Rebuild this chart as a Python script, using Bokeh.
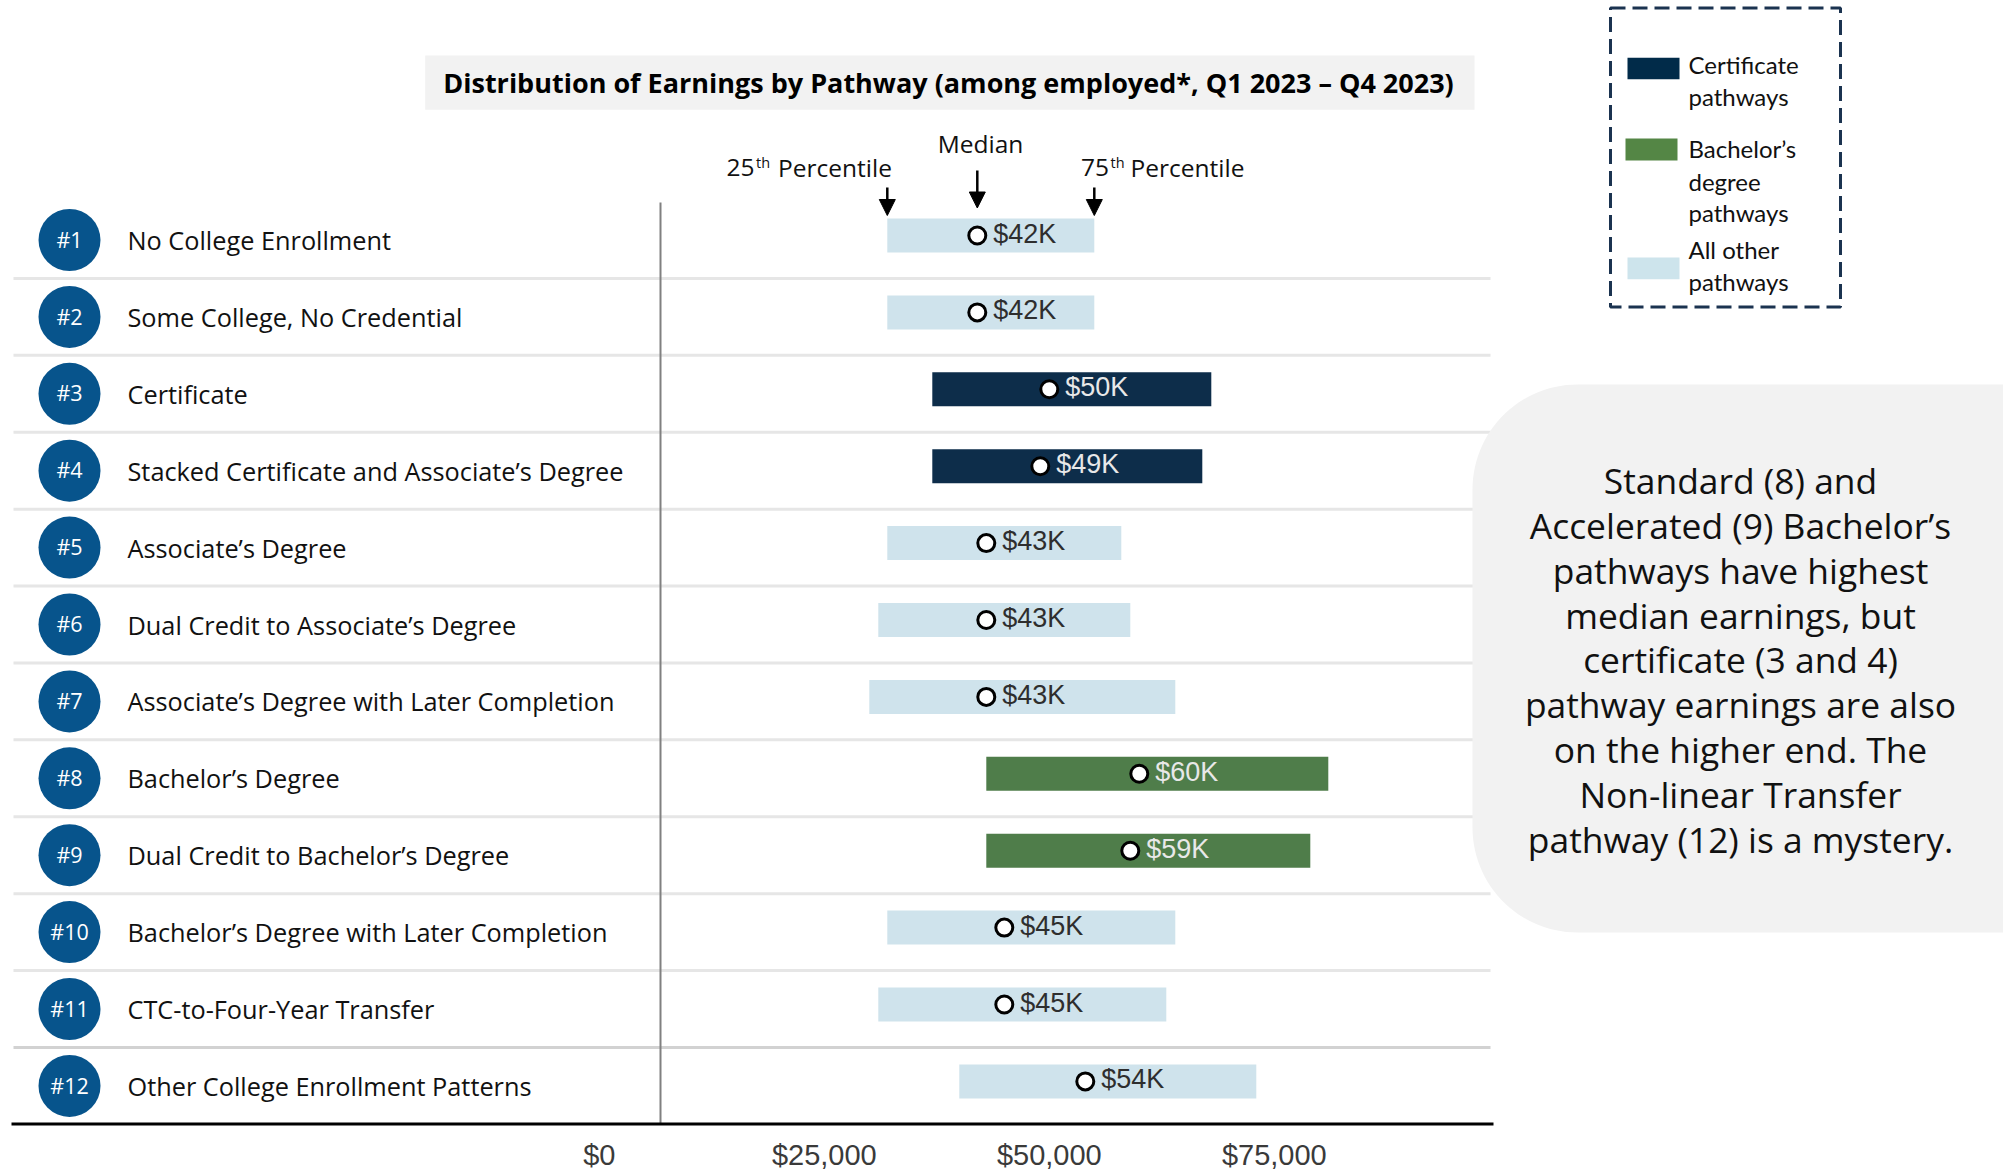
import numpy as np
from bokeh.plotting import figure
from bokeh.models import Range1d, Arrow, NormalHead
from bokeh.core.properties import value
from bokeh.embed import file_html
from bokeh.resources import INLINE

# ---------------- data ----------------
pathways = [
    "No College Enrollment",
    "Some College, No Credential",
    "Certificate",
    "Stacked Certificate and Associate\u2019s Degree",
    "Associate\u2019s Degree",
    "Dual Credit to Associate\u2019s Degree",
    "Associate\u2019s Degree with Later Completion",
    "Bachelor\u2019s Degree",
    "Dual Credit to Bachelor\u2019s Degree",
    "Bachelor\u2019s Degree with Later Completion",
    "CTC-to-Four-Year Transfer",
    "Other College Enrollment Patterns",
]
badges = ["#1", "#2", "#3", "#4", "#5", "#6", "#7", "#8", "#9", "#10", "#11", "#12"]
groups = ["other", "other", "cert", "cert", "other", "other", "other",
          "bach", "bach", "other", "other", "other"]
p25 = [32000, 32000, 37000, 37000, 32000, 31000, 30000, 43000, 43000, 32000, 31000, 40000]
median = [42000, 42000, 50000, 49000, 43000, 43000, 43000, 60000, 59000, 45000, 45000, 54000]
p75 = [55000, 55000, 68000, 67000, 58000, 59000, 64000, 81000, 79000, 64000, 63000, 73000]
tick_values = [0, 25000, 50000, 75000]
tick_labels = ["${:,}".format(t) for t in tick_values]
legend_keys = ["cert", "bach", "other"]
legend_lines = [["Certificate", "pathways"],
                ["Bachelor\u2019s", "degree", "pathways"],
                ["All other", "pathways"]]
title = "Distribution of Earnings by Pathway (among employed*, Q1 2023 \u2013 Q4 2023)"
callout_lines = [
    "Standard (8) and",
    "Accelerated (9) Bachelor\u2019s",
    "pathways have highest",
    "median earnings, but",
    "certificate (3 and 4)",
    "pathway earnings are also",
    "on the higher end. The",
    "Non-linear Transfer",
    "pathway (12) is a mystery.",
]

# ---------------- styles / layout ----------------
bar_colors = {"cert": "#0d2d4a", "bach": "#4f7d4a", "other": "#cfe3ec"}
legend_colors = {"cert": "#012b49", "bach": "#548645", "other": "#cde4ec"}
value_text_colors = {"cert": "#e8e8e8", "bach": "#e8e8e8", "other": "#2e2e2e"}
BADGE = "#07548c"
NAVY = "#1b3350"

W, H = 2003, 1175
PX_PER_DOLLAR = 0.009
X0_PAGE = 598.8
ROW0_PAGE = 239.5
ROW_PITCH = 76.9
BASE_SHIFT = 0.395  # em: rendered alphabetic text sits this much lower


def fx(px):
    return (px - X0_PAGE) / PX_PER_DOLLAR


def fy(py):
    return (py - ROW0_PAGE) / ROW_PITCH


def base(py, size):
    """data y for a wanted alphabetic baseline at page y py"""
    return fy(py - BASE_SHIFT * size)


p = figure(width=W, height=H,
           x_range=Range1d(fx(0), fx(W)),
           y_range=Range1d(fy(H), fy(0)),
           x_axis_type=None, y_axis_type=None,
           toolbar_location=None, output_backend="svg",
           min_border=0, outline_line_color=None)
p.background_fill_color = "white"
p.border_fill_color = "white"

OPEN = value("Open Sans")
ARIAL = value("Liberation Sans")
LATO = value("Lato")

rows = np.arange(len(pathways), dtype=float)
bar_y = rows - 4.5 / ROW_PITCH

# title box
p.quad(left=[fx(424.7)], right=[fx(1474)], top=[fy(55)], bottom=[fy(109.3)],
       fill_color="#f2f2f2", line_color=None)
p.text(x=[fx(948)], y=[base(92.3, 27)], text=[title], text_align="center",
       text_baseline="alphabetic", text_font=OPEN, text_font_style="bold",
       text_font_size="27px", text_color="#000000")

# row separators
sep_y = list(rows[:-1] + 0.5)
sep_colors = ["#e6e6e6"] * (len(sep_y) - 1) + ["#d2d2d2"]
p.segment(x0=fx(13), x1=fx(1490), y0=sep_y, y1=sep_y, line_color=sep_colors, line_width=3)

# vertical divider and bottom line
p.segment(x0=[fx(660)], x1=[fx(660)], y0=[fy(202)], y1=[fy(1123)],
          line_color="#808080", line_width=2)
p.segment(x0=[fx(11)], x1=[fx(1493)], y0=[fy(1123.5)], y1=[fy(1123.5)],
          line_color="#000000", line_width=3)

# bars
p.hbar(y=bar_y, left=p25, right=p75, height=34 / ROW_PITCH,
       fill_color=[bar_colors[g] for g in groups], line_color=None)
p.scatter(x=median, y=bar_y, marker="circle", size=17, fill_color="white",
          line_color="black", line_width=3)
p.text(x=median, y=bar_y, text=["${}K".format(round(m / 1000)) for m in median],
       x_offset=16, y_offset=0.358 * 27 - BASE_SHIFT * 27 - 1, text_align="left",
       text_baseline="alphabetic", text_font=ARIAL, text_font_size="27px",
       text_color=[value_text_colors[g] for g in groups])

# badges and labels
p.scatter(x=[fx(69)] * len(rows), y=rows, marker="circle", size=62,
          fill_color=BADGE, line_color=None)
p.text(x=[fx(69)] * len(rows), y=rows, text=badges,
       y_offset=0.357 * 21.5 - BASE_SHIFT * 21.5,
       text_align="center", text_baseline="alphabetic", text_font=OPEN,
       text_font_size="21.5px", text_color="white")
p.text(x=[fx(127)] * len(rows), y=rows, text=pathways,
       y_offset=10 - BASE_SHIFT * 25.3,
       text_align="left", text_baseline="alphabetic", text_font=OPEN,
       text_font_size="25.3px", text_color="#111111")

# percentile annotation arrows
head = dict(size=16, fill_color="black", line_color="black")
for xv, y0, y1 in [(p25[0], 187, 215), (median[0], 170, 207.5), (p75[0], 187, 215)]:
    p.add_layout(Arrow(end=NormalHead(**head), x_start=xv, y_start=fy(y0),
                       x_end=xv, y_end=fy(y1), line_width=2.5, line_color="black"))

ann = dict(text_baseline="alphabetic", text_font=OPEN, text_color="#111111")
p.text(x=[fx(754), fx(1108.5)], y=[base(176.7, 24.5)] * 2, text=["25", "75"],
       text_align="right", text_font_size="24.5px", **ann)
p.text(x=[fx(755.5), fx(1110)], y=[base(168, 14.5)] * 2, text=["th", "th"],
       text_align="left", text_font_size="14.5px", **ann)
p.text(x=[fx(777.5), fx(1130)], y=[base(176.7, 24.5)] * 2,
       text=["Percentile", "Percentile"],
       text_align="left", text_font_size="24.5px", **ann)
p.text(x=[fx(980)], y=[base(153, 24.5)], text=["Median"], text_align="center",
       text_font_size="24.5px", **ann)

# x tick labels
p.text(x=tick_values, y=[base(1166, 29)] * len(tick_values), text=tick_labels,
       text_align="center", text_baseline="alphabetic", text_font=ARIAL,
       text_font_size="29px", text_color="#3a3a3a")

# legend
p.quad(left=[fx(1610)], right=[fx(1840)], top=[fy(7.5)], bottom=[fy(306.5)],
       fill_color=None, line_color=NAVY, line_width=3, line_dash="15 7")
sw_boxes = {"cert": (1627, 1679, 57.3, 78.7), "bach": (1625, 1677, 138, 160),
            "other": (1627, 1679, 257, 278.7)}
line_base = {"cert": [73.3, 105.3], "bach": [157.7, 190, 221.7], "other": [258.3, 290]}
for key, lines in zip(legend_keys, legend_lines):
    l, r, t, b = sw_boxes[key]
    p.quad(left=[fx(l)], right=[fx(r)], top=[fy(t)], bottom=[fy(b)],
           fill_color=legend_colors[key], line_color=None)
    p.text(x=[fx(1688)] * len(lines), y=[base(v, 24) for v in line_base[key]], text=lines,
           text_align="left", text_baseline="alphabetic", text_font=LATO,
           text_font_size="24px", text_color="#111111")

# callout rounded box
L, R, T, B, RAD = 1472, 2140, 384, 932, 105
pts = []
for cx, cy, a0, a1 in [(L + RAD, T + RAD, 180, 270), (R - RAD, T + RAD, 270, 360),
                       (R - RAD, B - RAD, 0, 90), (L + RAD, B - RAD, 90, 180)]:
    for a in np.radians(np.linspace(a0, a1, 30)):
        pts.append((cx + RAD * np.cos(a), cy + RAD * np.sin(a)))
p.patch(x=[fx(a) for a, _ in pts], y=[fy(b) for _, b in pts],
        fill_color="#f2f2f2", line_color=None)
p.text(x=[fx(1740)] * len(callout_lines),
       y=[base(493.6 + 44.8 * k, 35.4) for k in range(len(callout_lines))],
       text=callout_lines, text_align="center", text_baseline="alphabetic",
       text_font=OPEN, text_font_size="35.4px", text_color="#111111")

open("out.html", "w").write(file_html(p, INLINE))
